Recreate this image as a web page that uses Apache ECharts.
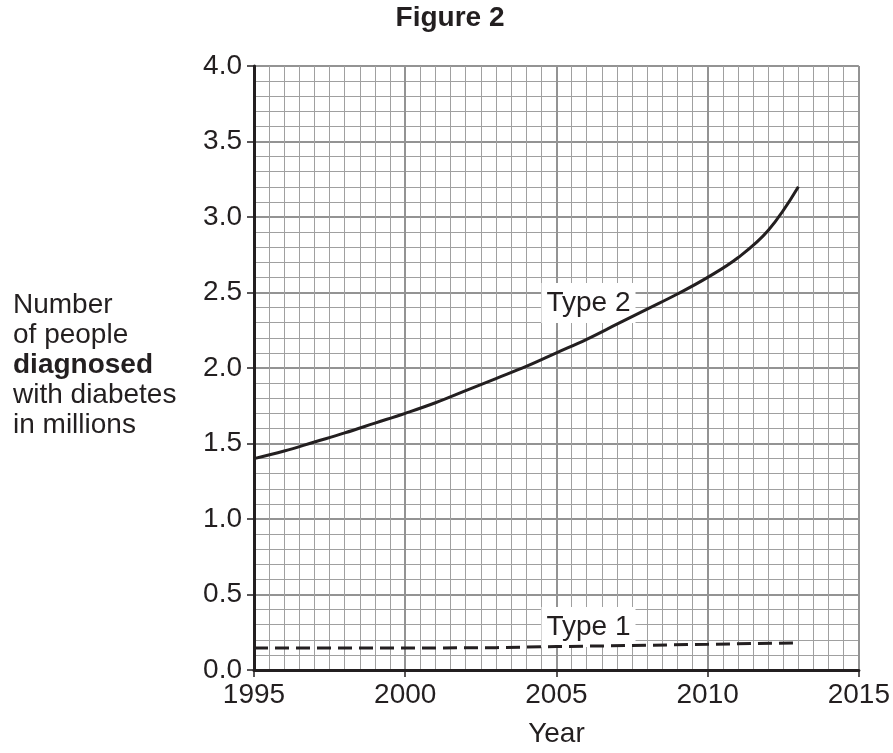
<!DOCTYPE html>
<html>
<head>
<meta charset="utf-8">
<script src="https://cdn.jsdelivr.net/npm/echarts@6/dist/echarts.min.js"></script>
<style>
html,body{margin:0;padding:0;background:#fff;}
#chart{width:893px;height:753px;}
</style>
</head>
<body>
<div id="chart"></div>
<script>
// ---- Data ----
const type2Years = [1995,1996,1997,1998,1999,2000,2001,2002,2003,2004,2005,2006,2007,2008,2009,2010,2011,2012,2013];
const type2Values = [1.40,1.45,1.51,1.57,1.635,1.70,1.77,1.85,1.93,2.01,2.10,2.19,2.29,2.39,2.49,2.60,2.73,2.91,3.20];
const type1Years = [1995,2000,2003,2005,2010,2013];
const type1Values = [0.145,0.145,0.148,0.155,0.17,0.18];
const seriesNames = ['Type 2','Type 1'];
const labelYears = [2006.06, 2006.06];
const labelValues = [2.43, 0.285];
const titleText = 'Figure 2';
const xAxisTitle = 'Year';
const yAxisTitleLines = ['Number','of people','diagnosed','with diabetes','in millions'];

const FONT = '"Liberation Sans", Arial, Helvetica, sans-serif';
const INK = '#231f20';
const chart = echarts.init(document.getElementById('chart'), null, {renderer:'canvas'});

const yTitleRich = yAxisTitleLines.map((t,i)=> i===2 ? '{b|'+t+'}' : '{n|'+t+'}').join('\n');

function annot(i){
  return {
    silent:true, z:1,
    symbol:'rect', symbolSize:0,
    data:[{name:seriesNames[i], coord:[labelYears[i],labelValues[i]]}],
    label:{show:true,position:'inside',formatter:seriesNames[i],
      fontFamily:FONT,fontSize:28,color:INK,opacity:1,lineHeight:28,
      backgroundColor:'#ffffff',padding:[6,5]},
    itemStyle:{color:'#fff',opacity:1},
    animation:false
  };
}

const option = {
  animation:false,
  backgroundColor:'#fff',
  grid:{left:254,right:33,top:66,bottom:83,containLabel:false},
  xAxis:{
    type:'value', min:1995, max:2015, interval:5,
    name:xAxisTitle, nameLocation:'middle', nameGap:50,
    nameTextStyle:{fontFamily:FONT,fontSize:28,color:INK,lineHeight:28,verticalAlign:'top'},
    axisLine:{show:true,onZero:false,lineStyle:{color:INK,width:3}},
    axisTick:{show:true,inside:false,length:7,lineStyle:{color:INK,width:1.5}},
    axisLabel:{fontFamily:FONT,fontSize:28,color:INK,margin:11,lineHeight:28,formatter:v=>String(v)},
    splitLine:{show:true,lineStyle:{color:'#939393',width:2}},
    minorTick:{show:false,splitNumber:10},
    minorSplitLine:{show:true,lineStyle:{color:'#a0a0a0',width:1}}
  },
  yAxis:{
    type:'value', min:0, max:4, interval:0.5,
    axisLine:{show:true,onZero:false,lineStyle:{color:INK,width:3}},
    axisTick:{show:true,inside:false,length:7,lineStyle:{color:INK,width:1.5}},
    axisLabel:{fontFamily:FONT,fontSize:28,color:INK,margin:12,formatter:v=>v.toFixed(1)},
    splitLine:{show:true,lineStyle:{color:'#939393',width:2}},
    minorTick:{show:false,splitNumber:5},
    minorSplitLine:{show:true,lineStyle:{color:'#a0a0a0',width:1}}
  },
  series:[
    {
      name:seriesNames[0], type:'line', smooth:0.4, symbol:'none', z:4,
      data:type2Years.map((y,i)=>[y,type2Values[i]]),
      lineStyle:{color:INK,width:3},
      markPoint:annot(0)
    },
    {
      name:seriesNames[1], type:'line', smooth:false, symbol:'none', z:4,
      data:type1Years.map((y,i)=>[y,type1Values[i]]),
      lineStyle:{color:INK,width:3,type:[14,7]},
      markPoint:annot(1)
    }
  ],
  graphic:[
    {type:'text',x:450,y:18,z:10,
      style:{text:titleText,textAlign:'center',textVerticalAlign:'middle',
        fontFamily:FONT,fontSize:28,fontWeight:'bold',fill:INK}},
    {type:'text',x:13,y:290,z:10,
      style:{text:yTitleRich,textAlign:'left',textVerticalAlign:'top',
        rich:{
          n:{fontFamily:FONT,fontSize:28,lineHeight:30,fill:INK,color:INK},
          b:{fontFamily:FONT,fontSize:28,lineHeight:30,fontWeight:'bold',fill:INK,color:INK}
        }}}
  ]
};
chart.setOption(option);
</script>
</body>
</html>
